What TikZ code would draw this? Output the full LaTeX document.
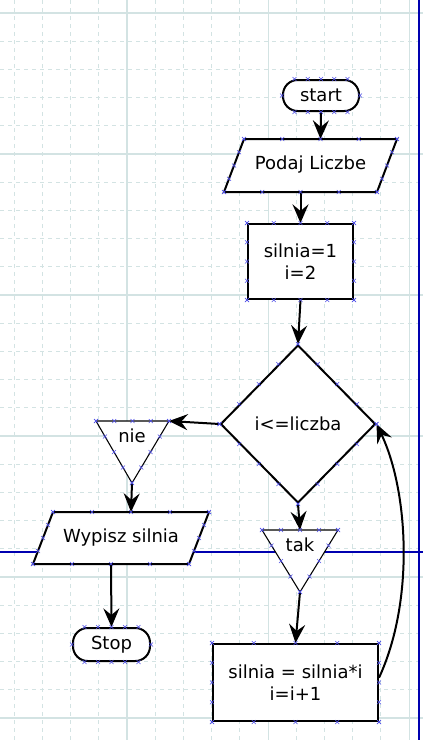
\documentclass[tikz,border=0pt]{standalone}
\usepackage{fontspec}
\setmainfont{DejaVu Sans}
\usetikzlibrary{arrows.meta,calc,shapes.geometric}
\definecolor{gridc}{HTML}{D3E3E3}
\definecolor{guide}{HTML}{0000B0}
\definecolor{mk}{HTML}{5050E8}
\tikzset{
 shp/.style={draw=black, line width=1.5pt, fill=white},
 tri/.style={draw=black, line width=0.8pt, fill=white},
 lbl/.style={font=\fontsize{13.5}{16.5}\selectfont, align=center, inner sep=0pt},
 term/.style={shp, lbl, rounded corners=11pt, minimum width=57pt, minimum height=23.25pt},
 box/.style={shp, lbl},
 conn/.style={line width=1.5pt, -{Stealth[length=14pt,width=12pt,inset=5pt]}},
 xm/.style={draw=mk, line width=0.4pt},
 gdash/.style={draw=gridc, line width=0.75pt, dash pattern=on 3pt off 3pt},
 gsolid/.style={draw=gridc, line width=0.9pt},
}
\newcommand\xat[1]{\draw[xm] (#1) +(-2,-2) -- +(2,2) +(-2,2) -- +(2,-2);}
\newcommand\xedge[2]{\foreach \t in {0,0.25,0.5,0.75,1}{\xat{$(#1)!\t!(#2)$}}}
\begin{document}
\begin{tikzpicture}[x=0.75pt,y=-0.75pt]
\useasboundingbox (0,0) rectangle (423,740);
\fill[white] (0,0) rectangle (423,740);
% grid
\foreach \k in {0,...,14} {\draw[gdash] ({14.2+28.2*\k},0) -- ({14.2+28.2*\k},740);}
\foreach \k in {0,...,25} {\draw[gdash] (0,{13+28.2*\k}) -- (423,{13+28.2*\k});}
\foreach \xx in {127,268.2,409.2} {\draw[gsolid] (\xx,0) -- (\xx,740);}
\foreach \yy in {13,154,295,436,577,718} {\draw[gsolid] (0,\yy) -- (423,\yy);}
% guide lines
\draw[guide, line width=1.5pt] (418.5,0) -- (418.5,740);
\draw[guide, line width=0.8pt] (0,552) -- (423,552);

% start
\node[term] (start) at (321,95.5) {start};
% Podaj Liczbe
\coordinate (pA) at (224,192); \coordinate (pB) at (377,192);
\coordinate (pC) at (397,139); \coordinate (pD) at (244,139);
\draw[shp] (pA) -- (pB) -- (pC) -- (pD) -- cycle;
\coordinate (pTop) at ($(pD)!0.5!(pC)$);
\coordinate (pBot) at ($(pA)!0.5!(pB)$);
\node[lbl] (podaj) at (310.5,165) {Podaj Liczbe};
% init
\node[box, minimum width=78.75pt, minimum height=56.25pt] (init) at (300.5,261.5) {silnia=1\\i=2};
% condition
\node[shp, lbl, diamond, minimum width=116.25pt, minimum height=118.5pt] (cond) at (298,424) {i<=liczba};
% nie
\coordinate (nA) at (96,421); \coordinate (nR) at (169,421); \coordinate (nB) at (132,483);
\draw[tri] (nA) -- (nR) -- (nB) -- cycle;
\coordinate (nTop) at ($(nA)!0.5!(nR)$);
\node[lbl] (nie) at (132,436) {nie};
% Wypisz
\coordinate (wA) at (33,564); \coordinate (wB) at (189,564);
\coordinate (wC) at (209,512); \coordinate (wD) at (53,512);
\draw[shp] (wA) -- (wB) -- (wC) -- (wD) -- cycle;
\coordinate (wTop) at ($(wD)!0.5!(wC)$);
\coordinate (wBot) at ($(wA)!0.5!(wB)$);
\node[lbl] (wypisz) at (121,538) {Wypisz silnia};
% Stop
\node[term, minimum width=57.75pt, minimum height=24.75pt] (stop) at (111.5,644.5) {Stop};
% tak
\coordinate (tA) at (262,530); \coordinate (tR) at (338,530); \coordinate (tB) at (300,592);
\draw[tri] (tA) -- (tR) -- (tB) -- cycle;
\coordinate (tTop) at ($(tA)!0.5!(tR)$);
\node[lbl] (tak) at (300,545) {tak};
% update
\node[box, minimum width=123.75pt, minimum height=57.75pt] (upd) at (295.5,682.5) {silnia = silnia*i\\i=i+1};
\coordinate (updR) at ($(upd.north east)!0.44!(upd.south east)$);

% connectors
\draw[conn] (start.south) -- (pTop);
\draw[conn] (pBot) -- (init.north);
\draw[conn] (init.south) -- (cond.north);
\draw[conn] (cond.west) -- (nR);
\draw[conn] (nB) -- (wTop);
\draw[conn] (wBot) -- (stop.north);
\draw[conn] (cond.south) -- (tTop);
\draw[conn] (tB) -- (upd.north);
\draw[conn] (updR) .. controls (415,600) and (408,490) .. (cond.east);

% connection markers
\xedge{$(start.north)+(-26.5,0)$}{$(start.north)+(26.5,0)$}
\xedge{$(start.south)+(-26.5,0)$}{$(start.south)+(26.5,0)$}
\xat{start.west}\xat{start.east}
\xedge{$(stop.north)+(-27,0)$}{$(stop.north)+(27,0)$}
\xedge{$(stop.south)+(-27,0)$}{$(stop.south)+(27,0)$}
\xat{stop.west}\xat{stop.east}
\xedge{pA}{pB}\xedge{pB}{pC}\xedge{pC}{pD}\xedge{pD}{pA}
\xedge{wA}{wB}\xedge{wB}{wC}\xedge{wC}{wD}\xedge{wD}{wA}
\xedge{nA}{nR}\xedge{nR}{nB}\xedge{nB}{nA}
\xedge{tA}{tR}\xedge{tR}{tB}\xedge{tB}{tA}
\xedge{init.north west}{init.north east}\xedge{init.north east}{init.south east}
\xedge{init.south east}{init.south west}\xedge{init.south west}{init.north west}
\xedge{upd.north west}{upd.north east}\xedge{upd.north east}{upd.south east}
\xedge{upd.south east}{upd.south west}\xedge{upd.south west}{upd.north west}
\xedge{cond.north}{cond.west}\xedge{cond.west}{cond.south}
\xedge{cond.south}{cond.east}\xedge{cond.east}{cond.north}
\end{tikzpicture}
\end{document}
